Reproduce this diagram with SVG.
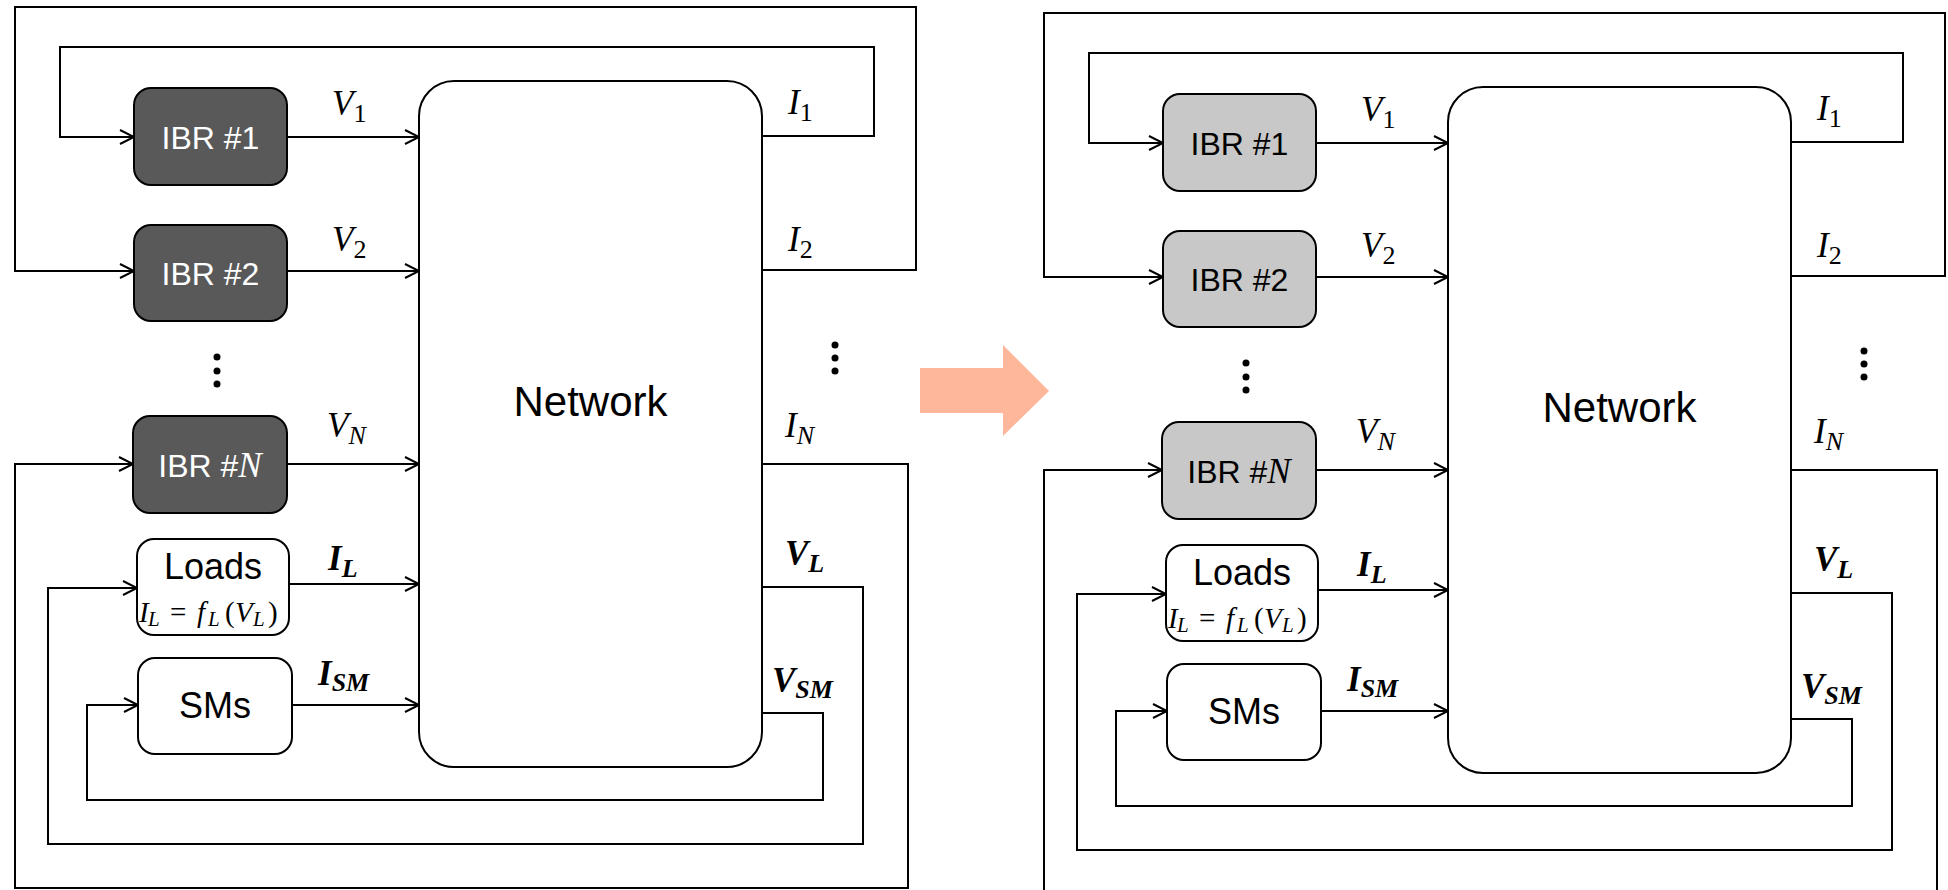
<svg xmlns="http://www.w3.org/2000/svg" width="1948" height="890" viewBox="0 0 1948 890">
<defs>
<marker id="arr" markerUnits="userSpaceOnUse" markerWidth="16" markerHeight="16" refX="14" refY="7" orient="auto" overflow="visible">
<path d="M0,0 L14,7 L0,14" fill="none" stroke="#000" stroke-width="2"/>
</marker>
<style>
.ln{fill:none;stroke:#000;stroke-width:2}
.ar{marker-end:url(#arr)}
.box{stroke:#000;stroke-width:2}
.ibrL{fill:#595959}
.ibrR{fill:#c8c8c8}
.wb{fill:#fff}
.sans{font-family:"Liberation Sans",Arial,sans-serif}
.t32{font-size:32px}
.t36{font-size:36px}
.t42{font-size:42px}
.m{font-family:"Liberation Serif","Times New Roman",serif;font-style:italic;font-size:35px;fill:#000}
.f{font-family:"Liberation Serif","Times New Roman",serif;font-style:italic;font-size:29px;fill:#000}
.b{font-weight:bold}
.s{font-size:26px}
.s2{font-size:21px}
.up{font-style:normal}
.dot{fill:#000}
</style>
</defs>
<rect width="1948" height="890" fill="#fff"/>

<g id="transition-arrow">
<polygon points="920,368 1003,368 1003,345 1049,391 1003,436 1003,413 920,413" fill="#ffb79b"/>
</g>

<g id="connectors">
<g id="connectors-left">
<path class="ln ar" d="M287,137 H419"/>
<path class="ln ar" d="M287,271 H419"/>
<path class="ln ar" d="M287,464 H419"/>
<path class="ln ar" d="M289,584 H419"/>
<path class="ln ar" d="M292,705 H419"/>
<path class="ln ar" d="M762,136 H874 V47 H60 V137 H134"/>
<path class="ln ar" d="M762,270 H916 V7 H15 V271 H134"/>
<path class="ln ar" d="M762,464 H908 V888 H15 V464 H133"/>
<path class="ln ar" d="M762,587 H863 V844 H48 V588 H137"/>
<path class="ln ar" d="M762,713 H823 V800 H87 V705 H138"/>
<text class="m" x="332" y="115">V<tspan class="s up" dy="7">1</tspan></text>
<text class="m" x="332" y="251">V<tspan class="s up" dy="7">2</tspan></text>
<text class="m" x="327" y="437">V<tspan class="s" dy="7">N</tspan></text>
<text class="m b" x="328" y="570">I<tspan class="s" dy="7">L</tspan></text>
<text class="m b" x="318" y="685">I<tspan class="s" dy="6">SM</tspan></text>
<text class="m" x="788" y="114">I<tspan class="s up" dy="7">1</tspan></text>
<text class="m" x="788" y="251">I<tspan class="s up" dy="7">2</tspan></text>
<text class="m" x="785" y="437">I<tspan class="s" dy="7">N</tspan></text>
<text class="m b" x="785" y="565">V<tspan class="s" dy="7">L</tspan></text>
<text class="m b" x="772" y="692">V<tspan class="s" dy="6">SM</tspan></text>
</g>
<g id="connectors-right" transform="translate(1029,6)">
<path class="ln ar" d="M287,137 H419"/>
<path class="ln ar" d="M287,271 H419"/>
<path class="ln ar" d="M287,464 H419"/>
<path class="ln ar" d="M289,584 H419"/>
<path class="ln ar" d="M292,705 H419"/>
<path class="ln ar" d="M762,136 H874 V47 H60 V137 H134"/>
<path class="ln ar" d="M762,270 H916 V7 H15 V271 H134"/>
<path class="ln ar" d="M762,464 H908 V888 H15 V464 H133"/>
<path class="ln ar" d="M762,587 H863 V844 H48 V588 H137"/>
<path class="ln ar" d="M762,713 H823 V800 H87 V705 H138"/>
<text class="m" x="332" y="115">V<tspan class="s up" dy="7">1</tspan></text>
<text class="m" x="332" y="251">V<tspan class="s up" dy="7">2</tspan></text>
<text class="m" x="327" y="437">V<tspan class="s" dy="7">N</tspan></text>
<text class="m b" x="328" y="570">I<tspan class="s" dy="7">L</tspan></text>
<text class="m b" x="318" y="685">I<tspan class="s" dy="6">SM</tspan></text>
<text class="m" x="788" y="114">I<tspan class="s up" dy="7">1</tspan></text>
<text class="m" x="788" y="251">I<tspan class="s up" dy="7">2</tspan></text>
<text class="m" x="785" y="437">I<tspan class="s" dy="7">N</tspan></text>
<text class="m b" x="785" y="565">V<tspan class="s" dy="7">L</tspan></text>
<text class="m b" x="772" y="692">V<tspan class="s" dy="6">SM</tspan></text>
</g>
</g>

<g id="panel-left">
<g id="ibr1-left"><rect class="box ibrL" x="134" y="88" width="153" height="97" rx="17"/><text class="sans t32" x="210.5" y="149" text-anchor="middle" fill="#fff">IBR #1</text></g>
<g id="ibr2-left"><rect class="box ibrL" x="134" y="225" width="153" height="96" rx="17"/><text class="sans t32" x="210.5" y="285" text-anchor="middle" fill="#fff">IBR #2</text></g>
<g id="ibrN-left"><rect class="box ibrL" x="133" y="416" width="154" height="97" rx="17"/><text class="sans t32" x="210" y="477" text-anchor="middle" fill="#fff">IBR #<tspan font-family="Liberation Serif, serif" font-style="italic" font-size="35">N</tspan></text></g>
<g id="loads-left"><rect class="box wb" x="137" y="539" width="152" height="96" rx="17"/><text class="sans t36" x="213" y="579" text-anchor="middle">Loads</text>
<text class="f" y="622"><tspan x="139">I</tspan><tspan class="s2" x="148" dy="4">L</tspan><tspan class="up" x="170" dy="-4">=</tspan><tspan x="197">f</tspan><tspan class="s2" x="208" dy="4">L</tspan><tspan class="up" x="225" dy="-4">(</tspan><tspan x="235">V</tspan><tspan class="s2" x="253" dy="4">L</tspan><tspan class="up" x="268" dy="-4">)</tspan></text></g>
<g id="sms-left"><rect class="box wb" x="138" y="658" width="154" height="96" rx="17"/><text class="sans t36" x="215" y="718" text-anchor="middle">SMs</text></g>
<g id="network-left"><rect class="box wb" x="419" y="81" width="343" height="686" rx="35"/><text class="sans t42" x="590.5" y="416" text-anchor="middle">Network</text></g>
<g id="dots-left"><circle class="dot" cx="217" cy="357" r="3.5"/><circle class="dot" cx="217" cy="371" r="3.5"/><circle class="dot" cx="217" cy="384" r="3.5"/><circle class="dot" cx="835" cy="345" r="3.5"/><circle class="dot" cx="835" cy="358" r="3.5"/><circle class="dot" cx="835" cy="371" r="3.5"/></g>
</g>

<g id="panel-right" transform="translate(1029,6)">
<g id="ibr1-right"><rect class="box ibrR" x="134" y="88" width="153" height="97" rx="17"/><text class="sans t32" x="210.5" y="149" text-anchor="middle" fill="#000">IBR #1</text></g>
<g id="ibr2-right"><rect class="box ibrR" x="134" y="225" width="153" height="96" rx="17"/><text class="sans t32" x="210.5" y="285" text-anchor="middle" fill="#000">IBR #2</text></g>
<g id="ibrN-right"><rect class="box ibrR" x="133" y="416" width="154" height="97" rx="17"/><text class="sans t32" x="210" y="477" text-anchor="middle" fill="#000">IBR #<tspan font-family="Liberation Serif, serif" font-style="italic" font-size="35">N</tspan></text></g>
<g id="loads-right"><rect class="box wb" x="137" y="539" width="152" height="96" rx="17"/><text class="sans t36" x="213" y="579" text-anchor="middle">Loads</text>
<text class="f" y="622"><tspan x="139">I</tspan><tspan class="s2" x="148" dy="4">L</tspan><tspan class="up" x="170" dy="-4">=</tspan><tspan x="197">f</tspan><tspan class="s2" x="208" dy="4">L</tspan><tspan class="up" x="225" dy="-4">(</tspan><tspan x="235">V</tspan><tspan class="s2" x="253" dy="4">L</tspan><tspan class="up" x="268" dy="-4">)</tspan></text></g>
<g id="sms-right"><rect class="box wb" x="138" y="658" width="154" height="96" rx="17"/><text class="sans t36" x="215" y="718" text-anchor="middle">SMs</text></g>
<g id="network-right"><rect class="box wb" x="419" y="81" width="343" height="686" rx="35"/><text class="sans t42" x="590.5" y="416" text-anchor="middle">Network</text></g>
<g id="dots-right"><circle class="dot" cx="217" cy="357" r="3.5"/><circle class="dot" cx="217" cy="371" r="3.5"/><circle class="dot" cx="217" cy="384" r="3.5"/><circle class="dot" cx="835" cy="345" r="3.5"/><circle class="dot" cx="835" cy="358" r="3.5"/><circle class="dot" cx="835" cy="371" r="3.5"/></g>
</g>
</svg>
